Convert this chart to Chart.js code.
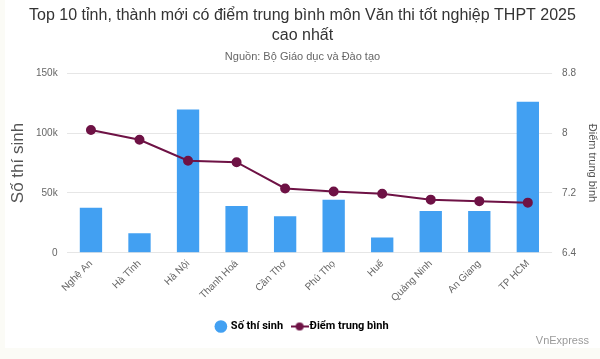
<!DOCTYPE html>
<html>
<head>
<meta charset="utf-8">
<script src="https://cdn.jsdelivr.net/npm/chart.js@4"></script>
<style>
  html, body { margin: 0; padding: 0; background: #fbfbf6; }
  #wrap { position: absolute; left: 5px; top: 0; width: 595px; height: 348px; background: #fff; }
  #chartBox { position: absolute; left: 0; top: 0; width: 595px; height: 348px; }
  #brand { position: absolute; right: 11px; top: 334px; font: 11px "Liberation Sans", Arial, sans-serif; color: #9a9a9a; }
</style>
</head>
<body>
<div id="wrap">
  <div id="chartBox"><canvas id="myChart"></canvas></div>
  <div id="brand">VnExpress</div>
</div>
<script>
const provinces = ['Nghệ An', 'Hà Tĩnh', 'Hà Nội', 'Thanh Hoá', 'Cần Thơ', 'Phú Thọ', 'Huế', 'Quảng Ninh', 'An Giang', 'TP HCM'];
const candidates = [37700, 16300, 119600, 39100, 30600, 44300, 12800, 35000, 35000, 126200];
const avgScores = [8.04, 7.91, 7.63, 7.61, 7.26, 7.22, 7.19, 7.11, 7.09, 7.07];
const leftTicks = [0, 50000, 100000, 150000];
const rightTicks = [6.4, 7.2, 8, 8.8];

const barColor = '#42a0f2';
const lineColor = '#6e1245';
const font = '"Liberation Sans", Arial, sans-serif';

// small legend icon: line with a dot in the middle
const lineIcon = document.createElement('canvas');
lineIcon.width = 18; lineIcon.height = 10;
(() => {
    const c = lineIcon.getContext('2d');
    c.strokeStyle = lineColor; c.lineWidth = 2;
    c.beginPath(); c.moveTo(0, 5); c.lineTo(18, 5); c.stroke();
    c.fillStyle = lineColor;
    c.beginPath(); c.arc(9, 5, 4, 0, Math.PI * 2); c.fill();
})();

const data = {
    labels: provinces,
    datasets: [{
        type: 'line',
        label: 'Điểm trung bình',
        data: avgScores,
        yAxisID: 'y1',
        borderColor: lineColor,
        backgroundColor: lineColor,
        borderWidth: 2,
        pointRadius: 4,
        pointBackgroundColor: lineColor,
        tension: 0,
        order: 0
    }, {
        type: 'bar',
        label: 'Số thí sinh',
        data: candidates,
        yAxisID: 'y',
        backgroundColor: barColor,
        borderColor: 'transparent',
        barPercentage: 0.46,
        categoryPercentage: 1,
        order: 1
    }]
};

const config = {
    data: data,
    options: {
        responsive: false,
        animation: false,
        layout: { padding: { left: 0, right: 0, bottom: 6, top: 2 } },
        plugins: {
            title: {
                display: true,
                text: ['Top 10 tỉnh, thành mới có điểm trung bình môn Văn thi tốt nghiệp THPT 2025', 'cao nhất'],
                color: '#333',
                font: { family: font, size: 16, weight: 'normal', lineHeight: 1.25 },
                padding: { top: 4, bottom: 4 }
            },
            subtitle: {
                display: true,
                text: 'Nguồn: Bộ Giáo dục và Đào tạo',
                color: '#666',
                font: { family: font, size: 11 },
                padding: { top: 0, bottom: 10 }
            },
            legend: {
                position: 'bottom',
                labels: {
                    usePointStyle: true,
                    boxWidth: 9,
                    boxHeight: 9,
                    color: '#333',
                    padding: 12,
                    font: { family: 'Roboto, ' + font, size: 11, weight: 'bold' },
                    generateLabels: chart => [
                        { text: 'Số thí sinh', pointStyle: 'circle', fillStyle: barColor, strokeStyle: barColor, lineWidth: 0, datasetIndex: 1 },
                        { text: 'Điểm trung bình', pointStyle: lineIcon, fillStyle: lineColor, strokeStyle: lineColor, datasetIndex: 0 }
                    ]
                }
            },
            tooltip: { enabled: false }
        },
        scales: {
            x: {
                grid: { display: false, drawTicks: false },
                border: { display: false },
                ticks: {
                    color: '#666',
                    font: { family: font, size: 10 },
                    padding: 5,
                    maxRotation: 45,
                    minRotation: 45
                }
            },
            y: {
                position: 'left',
                min: 0,
                max: 150000,
                afterBuildTicks: axis => { axis.ticks = leftTicks.map(v => ({ value: v })); },
                ticks: {
                    color: '#666',
                    font: { family: font, size: 10 },
                    padding: 9,
                    callback: v => v === 0 ? '0' : (v / 1000) + 'k'
                },
                grid: { color: '#e6e6e6', drawTicks: false },
                border: { display: false },
                title: {
                    display: true,
                    text: 'Số thí sinh',
                    color: '#555',
                    font: { family: font, size: 17, lineHeight: 1 },
                    padding: { top: 5, bottom: 0 }
                }
            },
            y1: {
                position: 'right',
                min: 6.4,
                max: 8.8,
                afterBuildTicks: axis => { axis.ticks = rightTicks.map(v => ({ value: v })); },
                ticks: {
                    color: '#666',
                    font: { family: font, size: 10 },
                    padding: 10,
                    callback: v => String(v)
                },
                grid: { display: false, drawTicks: false },
                border: { display: false },
                title: {
                    display: true,
                    text: 'Điểm trung bình',
                    color: '#555',
                    font: { family: font, size: 11, lineHeight: 1 },
                    padding: { top: 2, bottom: 1 }
                }
            }
        }
    }
};

const canvas = document.getElementById('myChart');
canvas.width = 595;
canvas.height = 348;
const myChart = new Chart(canvas, config);
</script>
</body>
</html>
